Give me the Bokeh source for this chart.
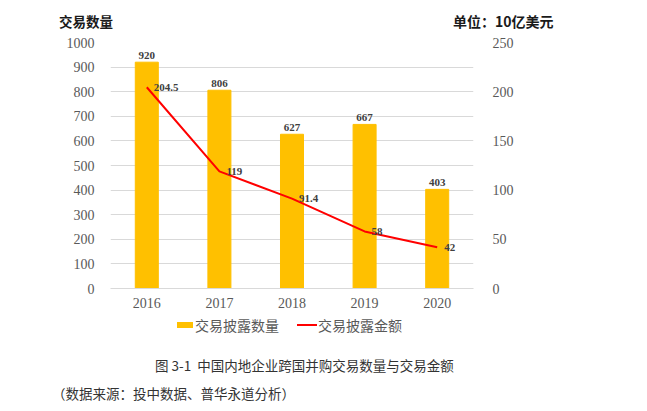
from bokeh.plotting import figure
from bokeh.layouts import column
from bokeh.models import (FactorRange, Range1d, LinearAxis, FixedTicker, Div,
                          LabelSet, ColumnDataSource)
from bokeh.embed import file_html
from bokeh.resources import INLINE

# ---- data ----
years = ["2016", "2017", "2018", "2019", "2020"]
deal_counts = [920, 806, 627, 667, 403]
deal_amounts = [204.5, 119, 91.4, 58, 42]
count_labels = ["920", "806", "627", "667", "403"]
amount_labels = ["204.5", "119", "91.4", "58", "42"]
left_ticks = [0, 100, 200, 300, 400, 500, 600, 700, 800, 900, 1000]
right_ticks = [0, 50, 100, 150, 200, 250]
series_names = ["交易披露数量", "交易披露金额"]
series_colors = ["#FFC000", "#FF0000"]
left_title = "交易数量"
right_title = "单位：10亿美元"
caption = "图 3-1&nbsp;&nbsp;中国内地企业跨国并购交易数量与交易金额"
source_note = "（数据来源：投中数据、普华永道分析）"

SERIF = "Liberation Serif"
CJK = "Noto Sans CJK SC"
GRAY = "#595959"

src = ColumnDataSource(dict(year=years, count=deal_counts, amount=deal_amounts,
                            clab=count_labels, alab=amount_labels))

p = figure(x_range=FactorRange(*years), y_range=Range1d(0, 1000),
           width=640, height=286, output_backend="svg", toolbar_location=None,
           min_border_left=110, min_border_right=167, min_border_top=12,
           min_border_bottom=28)
p.extra_y_ranges = {"amt": Range1d(0, 250)}
p.outline_line_color = None
p.background_fill_color = "white"
p.border_fill_color = "white"

# axes
p.yaxis.ticker = FixedTicker(ticks=left_ticks)
for ax in [p.yaxis[0], p.xaxis[0]]:
    ax.major_tick_line_color = None
    ax.minor_tick_line_color = None
    ax.major_label_text_font = SERIF
    ax.major_label_text_font_size = "14px"
    ax.major_label_text_color = GRAY
p.yaxis.axis_line_color = None
p.yaxis.major_label_standoff = 10
p.xaxis.axis_line_color = "#d9d9d9"
p.xaxis.major_tick_out = 0
p.xaxis.major_label_standoff = 9

rax = LinearAxis(y_range_name="amt", ticker=FixedTicker(ticks=right_ticks))
rax.axis_line_color = None
rax.major_tick_line_color = None
rax.minor_tick_line_color = None
rax.major_label_text_font = SERIF
rax.major_label_text_font_size = "14px"
rax.major_label_text_color = GRAY
rax.major_label_standoff = 13
p.add_layout(rax, "right")

p.xgrid.visible = False
p.ygrid.grid_line_color = "#d9d9d9"
p.ygrid.grid_line_width = 1

# bars
p.vbar(x="year", top="count", width=0.317, source=src, color=series_colors[0])
p.add_layout(LabelSet(x="year", y="count", text="clab", source=src, y_offset=3,
                      text_align="center", text_baseline="bottom",
                      text_font=SERIF, text_font_size="11px",
                      text_font_style="bold", text_color="#404040"))

# line
p.line(x="year", y="amount", source=src, y_range_name="amt",
       line_color=series_colors[1], line_width=2)
p.add_layout(LabelSet(x="year", y="amount", text="alab", source=src,
                      y_range_name="amt", x_offset=7,
                      text_align="left", text_baseline="middle",
                      text_font=SERIF, text_font_size="11px",
                      text_font_style="bold", text_color="#404040"))

span = ("position:absolute;white-space:nowrap;line-height:20px;"
        "font-family:'Noto Sans CJK SC';")
top_div = Div(width=640, height=30, margin=(0, 0, 0, 0), text=(
    f"<div style='position:relative;width:640px;height:30px;'>"
    f"<span style=\"{span}left:59px;top:11px;font-size:13.5px;font-weight:bold;color:#1a1a1a;\">{left_title}</span>"
    f"<span style=\"{span}left:453px;top:11px;font-size:14px;font-weight:bold;color:#1a1a1a;\">{right_title}</span>"
    f"</div>"))
bottom_div = Div(width=640, height=89, margin=(0, 0, 0, 0), text=(
    f"<div style='position:relative;width:640px;height:89px;'>"
    f"<span style='position:absolute;left:177px;top:6px;width:16px;height:6px;background:{series_colors[0]};'></span>"
    f"<span style=\"{span}left:195px;top:-1px;font-size:14px;color:{GRAY};\">{series_names[0]}</span>"
    f"<span style='position:absolute;left:297px;top:8px;width:20px;height:2px;background:{series_colors[1]};'></span>"
    f"<span style=\"{span}left:318px;top:-1px;font-size:14px;color:{GRAY};\">{series_names[1]}</span>"
    f"<span style=\"{span}left:155px;top:39px;font-size:13.5px;color:#333333;\">{caption}</span>"
    f"<span style=\"{span}left:52px;top:67px;font-size:13.5px;color:#333333;\">{source_note}</span>"
    f"</div>"))

layout = column(top_div, p, bottom_div, spacing=0)
open("out.html", "w").write(file_html(layout, INLINE))
